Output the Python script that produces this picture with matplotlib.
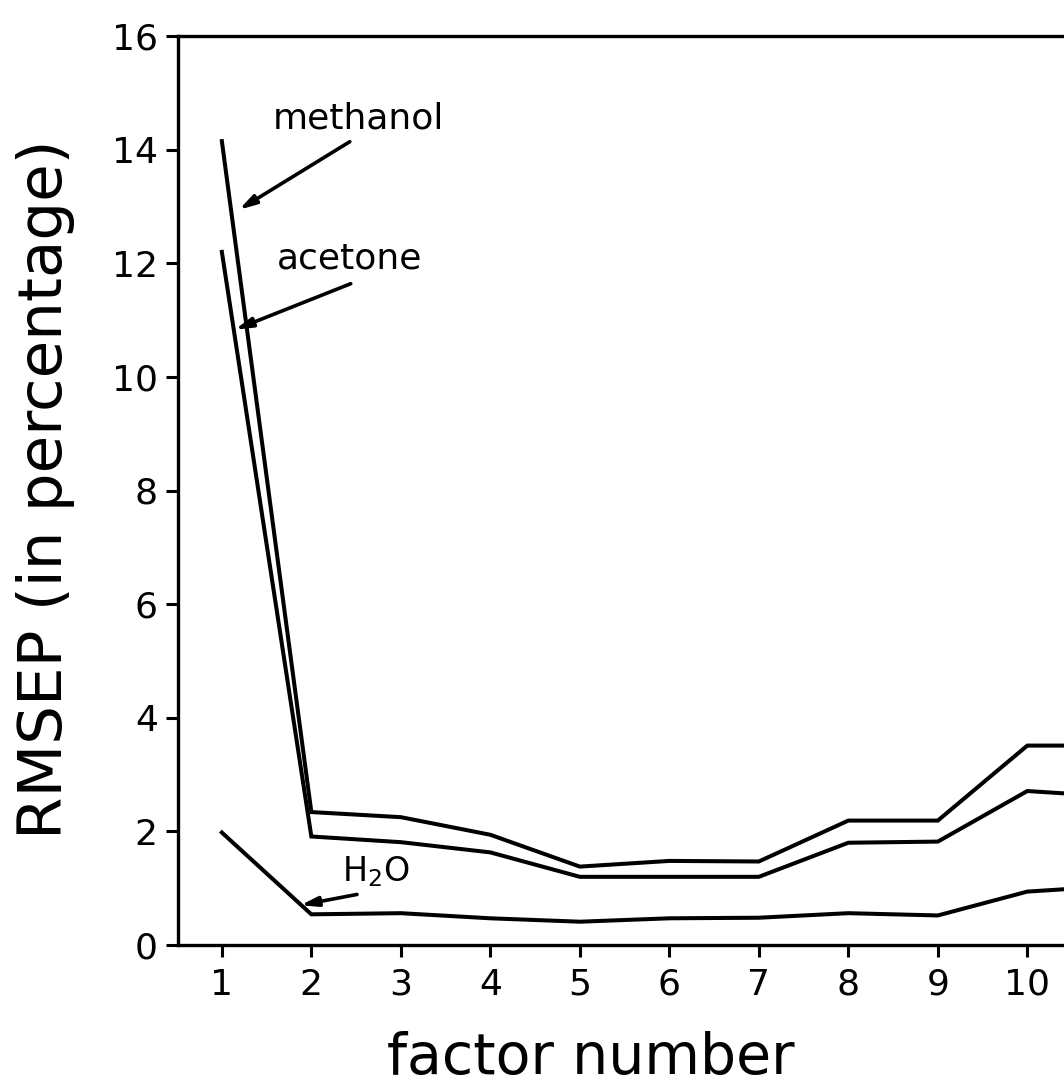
import numpy as np
import matplotlib.pyplot as plt

# RMSEP values
factors = [1, 2, 3, 4, 5, 6, 7, 8, 9, 10, 11]
methanol = [14.15, 2.34, 2.25, 1.94, 1.38, 1.48, 1.47, 2.19, 2.19, 3.51, 3.51]
acetone = [12.2, 1.91, 1.81, 1.63, 1.20, 1.20, 1.20, 1.80, 1.82, 2.71, 2.61]
water = [1.98, 0.54, 0.56, 0.47, 0.41, 0.47, 0.48, 0.56, 0.52, 0.94, 1.04]

xticks = [1, 2, 3, 4, 5, 6, 7, 8, 9, 10]
yticks = [0, 2, 4, 6, 8, 10, 12, 14, 16]

fig = plt.figure(figsize=(10.64, 10.90), dpi=100)
ax = fig.add_axes([178/1064, 1-945/1090, 1-178/1064, (945-36)/1090])

lw = 2.9
for ys in (methanol, acetone, water):
    ax.plot(factors, ys, color='black', lw=lw, solid_joinstyle='miter')

ax.set_xlim(0.51, 10.41)
ax.set_ylim(0, 16)
ax.set_xticks(xticks)
ax.set_yticks(yticks)
ax.tick_params(axis='both', direction='out', length=8.5, width=2.2,
               labelsize=26, colors='black')
ax.tick_params(axis='y', pad=6)
ax.tick_params(axis='x', pad=8)
for s in ('left', 'bottom', 'top'):
    ax.spines[s].set_linewidth(2.4)
ax.spines['right'].set_visible(False)

# arrow labels
arr = dict(arrowstyle='-|>,head_length=1.0,head_width=0.28', color='black',
           lw=2.6, shrinkA=0, shrinkB=0)
ax.annotate('', xy=(1.19, 12.94), xytext=(2.43, 14.14), arrowprops=arr)
ax.annotate('', xy=(1.145, 10.83), xytext=(2.44, 11.64), arrowprops=arr)
ax.annotate('', xy=(1.876, 0.70), xytext=(2.51, 0.89), arrowprops=arr)
ax.text(1.57, 14.38, 'methanol', fontsize=26, ha='left', va='baseline')
ax.text(1.61, 11.91, 'acetone', fontsize=26, ha='left', va='baseline')
ax.text(2.34, 1.13, r'H$_2$O', fontsize=24, ha='left', va='baseline')

fig.text(46/1064, 1-489/1090, 'RMSEP (in percentage)', rotation=90,
         ha='center', va='center', fontsize=44)
fig.text(591/1064, 1-1074/1090, 'factor number', ha='center', va='baseline',
         fontsize=41)

fig.savefig('out.png', dpi=100)
